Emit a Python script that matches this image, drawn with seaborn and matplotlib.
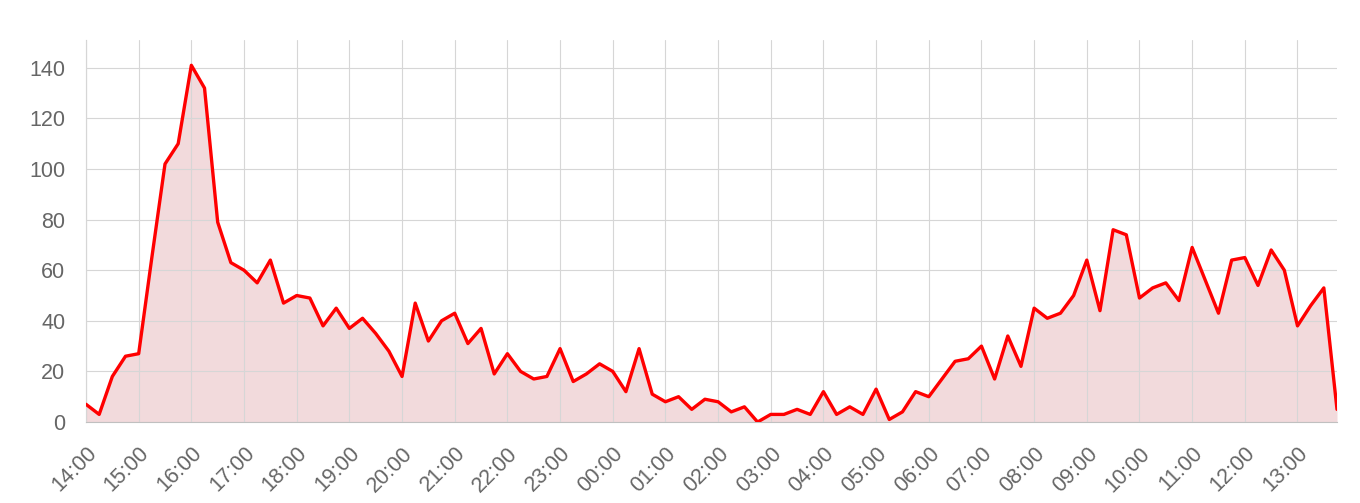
import pandas as pd
import seaborn as sns
import matplotlib
matplotlib.use("Agg")
import matplotlib.pyplot as plt
import matplotlib.dates as mdates

# counts per 15 minutes, starting 14:00
start_time = "2020-01-01 14:00"
counts = [
    7, 3, 18, 26, 27, 65, 102, 110, 141, 132, 79, 63, 60, 55, 64, 47,
    50, 49, 38, 45, 37, 41, 35, 28, 18, 47, 32, 40, 43, 31, 37, 19,
    27, 20, 17, 18, 29, 16, 19, 23, 20, 12, 29, 11, 8, 10, 5, 9,
    8, 4, 6, 0, 3, 3, 5, 3, 12, 3, 6, 3, 13, 1, 4, 12,
    10, 17, 24, 25, 30, 17, 34, 22, 45, 41, 43, 50, 64, 44, 76, 74,
    49, 53, 55, 48, 69, 56, 43, 64, 65, 54, 68, 60, 38, 46, 53, 5,
]
y_ticks = [0, 20, 40, 60, 80, 100, 120, 140]

times = pd.date_range(start_time, periods=len(counts), freq="15min")
df = pd.DataFrame({"time": times, "count": counts})

sns.set_style("white")
plt.rcParams["font.family"] = ["Liberation Sans", "DejaVu Sans"]

fig = plt.figure(figsize=(13.6, 5.03), dpi=100)
ax = fig.add_axes([86 / 1360, 81 / 503, 1251 / 1360, 382 / 503])

grid_col = "#d6d6d6"
ax.fill_between(df["time"], df["count"], 0, color="#f2dadc", lw=0, zorder=1)
sns.lineplot(data=df, x="time", y="count", ax=ax, color="#ff0000", lw=2.4,
             zorder=3, solid_joinstyle="round", solid_capstyle="round")

ax.set_xlim(times[0], times[-1])
ax.set_ylim(0, 151)
ax.set_yticks(y_ticks)
ax.xaxis.set_major_locator(mdates.HourLocator())
ax.xaxis.set_major_formatter(mdates.DateFormatter("%H:%M"))

ax.grid(True, color=grid_col, lw=0.8, zorder=2)
ax.set_axisbelow(False)
for line in ax.get_xgridlines() + ax.get_ygridlines():
    line.set_zorder(2)

for s in ["top", "right"]:
    ax.spines[s].set_visible(False)
ax.spines["left"].set_color("#c0c0c0")
ax.spines["bottom"].set_color("#c0c0c0")
ax.spines["left"].set_linewidth(0.8)
ax.spines["bottom"].set_linewidth(0.8)

ax.tick_params(axis="both", length=11, width=0.8, color=grid_col,
               labelsize=15.5, labelcolor="#666666", pad=4)
plt.setp(ax.get_xticklabels(), rotation=45, ha="right", rotation_mode="anchor")
ax.set_xlabel("")
ax.set_ylabel("")

fig.savefig("out.png", dpi=100, facecolor="white")
